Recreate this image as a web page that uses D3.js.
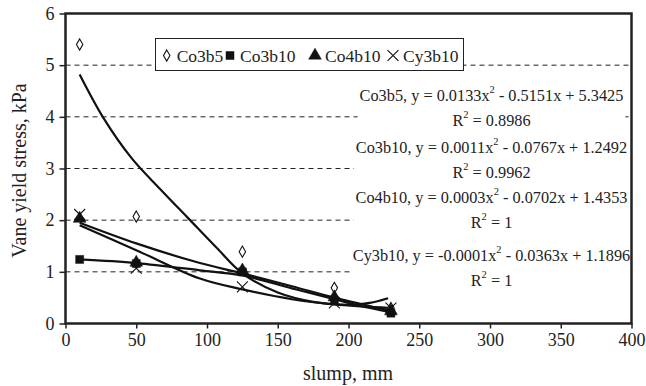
<!DOCTYPE html>
<html>
<head>
<meta charset="utf-8">
<script src="https://cdn.jsdelivr.net/npm/d3@7"></script>
<style>
  body { margin: 0; background: #fff; }
  text { font-family: "Liberation Serif", "Times New Roman", serif; fill: #222; }
</style>
</head>
<body>
<div id="chart"></div>
<script>
var svg_width = 646;
var svg_height = 386;

// measured slump values, mm
var slump = [10, 50, 125, 190, 230];
var seriesNames = ["Co3b5", "Co3b10", "Co4b10", "Cy3b10"];
var co3b5 = [5.4, 2.07, 1.39, 0.69, 0.3];
var co3b10 = [1.24, 1.16, 1.0, 0.45, 0.2];
var co4b10 = [2.03, 1.18, 1.03, 0.51, 0.24];
var cy3b10 = [2.11, 1.07, 0.71, 0.4, 0.3];

// trend curves
var trendCo3b5 = [[10, 4.82], [27, 3.97], [47, 3.19], [67, 2.6], [87, 2.03], [107, 1.46], [125, 0.97], [150, 0.6], [175, 0.42], [200, 0.36], [215, 0.4], [228, 0.49]];
var trendCo3b10 = [[10, 1.24], [50, 1.17], [95, 1.03], [125, 0.93], [160, 0.68], [190, 0.47], [210, 0.33], [230, 0.22]];
var trendCo4b10 = [[10, 1.95], [50, 1.55], [95, 1.17], [125, 0.97], [160, 0.72], [190, 0.5], [230, 0.24]];
var trendCy3b10 = [[10, 1.9], [50, 1.42], [95, 0.87], [125, 0.66], [160, 0.47], [190, 0.37], [230, 0.3]];

var eqLabels = [
  ["Co3b5, y = 0.0133x", " - 0.5151x + 5.3425", "0.8986"],
  ["Co3b10, y = 0.0011x", " - 0.0767x + 1.2492", "0.9962"],
  ["Co4b10, y = 0.0003x", " - 0.0702x + 1.4353", "1"],
  ["Cy3b10, y = -0.0001x", " - 0.0363x + 1.1896", "1"]
];
var eqY = [95, 146.5, 197, 254.5];

var xTicks = [0, 50, 100, 150, 200, 250, 300, 350, 400];
var yTicks = [0, 1, 2, 3, 4, 5, 6];

var svg = d3.select("#chart")
    .append("svg")
    .attr("width", svg_width)
    .attr("height", svg_height);

var x = d3.scaleLinear().domain([0, 400]).range([65.5, 631.5]);
var y = d3.scaleLinear().domain([0, 6]).range([323.5, 13.5]);

// dashed gridlines
svg.append("g").selectAll("line")
    .data([1, 2, 3, 4, 5])
    .enter().append("line")
    .attr("x1", x(0)).attr("x2", x(400))
    .attr("y1", d => y(d)).attr("y2", d => y(d))
    .attr("stroke", "#222")
    .attr("stroke-width", 1)
    .attr("stroke-dasharray", "5,4");

// axes
var xAxis = svg.append("g")
    .attr("transform", "translate(0," + y(0) + ")")
    .call(d3.axisBottom(x).tickValues(xTicks).tickSize(5).tickPadding(5));
var yAxis = svg.append("g")
    .attr("transform", "translate(" + x(0) + ",0)")
    .call(d3.axisLeft(y).tickValues(yTicks).tickFormat(d3.format("d")).tickSize(6).tickPadding(5));
[xAxis, yAxis].forEach(function (a) {
  a.select(".domain").remove();
  a.selectAll("line").attr("stroke", "#222").attr("stroke-width", 1.5);
  a.selectAll("text").style("font-family", '"Liberation Serif", serif').style("font-size", "18px").attr("fill", "#222");
});

// equation labels with white backgrounds
var eqG = svg.append("g");
eqLabels.forEach(function (lab, i) {
  var g = eqG.append("g");
  var bg = g.append("rect").attr("fill", "#fff");
  var t1 = g.append("text")
      .attr("x", 491.5).attr("y", eqY[i])
      .attr("text-anchor", "middle")
      .attr("dominant-baseline", "central")
      .style("font-size", "16.3px");
  t1.append("tspan").text(lab[0]);
  t1.append("tspan").text("2").attr("dy", -6).style("font-size", "10.5px");
  t1.append("tspan").text(lab[1]).attr("dy", 6);
  var t2 = g.append("text")
      .attr("x", 491.5).attr("y", eqY[i] + 25)
      .attr("text-anchor", "middle")
      .attr("dominant-baseline", "central")
      .style("font-size", "16.3px");
  t2.append("tspan").text("R");
  t2.append("tspan").text("2").attr("dy", -6).style("font-size", "10.5px");
  t2.append("tspan").text(" = " + lab[2]).attr("dy", 6);
  var b1 = t1.node().getBBox();
  bg.attr("x", b1.x - 2).attr("y", b1.y - 1)
    .attr("width", b1.width + 4).attr("height", 25 + b1.height + 2);
});

// frame
svg.append("rect")
    .attr("x", x(0)).attr("y", y(6))
    .attr("width", x(400) - x(0)).attr("height", y(0) - y(6))
    .attr("fill", "none")
    .attr("stroke", "#222")
    .attr("stroke-width", 2.5);

// trend lines
var line = d3.line()
    .x(d => x(d[0]))
    .y(d => y(d[1]))
    .curve(d3.curveCatmullRom);
[trendCo3b5, trendCo3b10, trendCo4b10, trendCy3b10].forEach(function (tr) {
  svg.append("path")
      .datum(tr)
      .attr("d", line)
      .attr("fill", "none")
      .attr("stroke", "#111")
      .attr("stroke-width", 2.2);
});

// markers
var symbols = [
  { type: d3.symbolDiamond, size: 36, fill: "#fff", stroke: "#111", sw: 1.1 },
  { type: d3.symbolSquare, size: 64, fill: "#111", stroke: "#111", sw: 0.5 },
  { type: d3.symbolTriangle, size: 70, fill: "#111", stroke: "#111", sw: 0.5 },
  { type: d3.symbolTimes, size: 80, fill: "none", stroke: "#111", sw: 1.1 }
];
var seriesVals = [co3b5, co3b10, co4b10, cy3b10];
seriesVals.forEach(function (vals, i) {
  var s = symbols[i];
  svg.append("g").selectAll("path")
      .data(vals)
      .enter().append("path")
      .attr("transform", (d, j) => "translate(" + x(slump[j]) + "," + y(d) + ")")
      .attr("d", d3.symbol().type(s.type).size(s.size))
      .attr("fill", s.fill)
      .attr("stroke", s.stroke)
      .attr("stroke-width", s.sw);
});

// legend
var legend = svg.append("g").attr("transform", "translate(155.5,38.5)");
legend.append("rect")
    .attr("width", 308).attr("height", 32)
    .attr("fill", "#fff")
    .attr("stroke", "#222")
    .attr("stroke-width", 1);
var legX = [11.2, 74.5, 159.5, 237.5];
seriesNames.forEach(function (n, i) {
  var s = symbols[i];
  legend.append("path")
      .attr("transform", "translate(" + legX[i] + ",17)")
      .attr("d", d3.symbol().type(s.type).size(s.size))
      .attr("fill", s.fill)
      .attr("stroke", s.stroke)
      .attr("stroke-width", s.sw);
  legend.append("text")
      .text(n)
      .attr("x", legX[i] + 10)
      .attr("y", 17)
      .attr("dominant-baseline", "central")
      .style("font-size", "17.5px");
});

// axis titles
svg.append("text")
    .text("slump, mm")
    .attr("x", 348)
    .attr("y", 373)
    .attr("text-anchor", "middle")
    .attr("dominant-baseline", "central")
    .style("font-size", "20px");
svg.append("text")
    .text("Vane yield stress, kPa")
    .attr("transform", "translate(19,170.5) rotate(-90)")
    .attr("text-anchor", "middle")
    .attr("dominant-baseline", "central")
    .style("font-size", "20px");
</script>
</body>
</html>
